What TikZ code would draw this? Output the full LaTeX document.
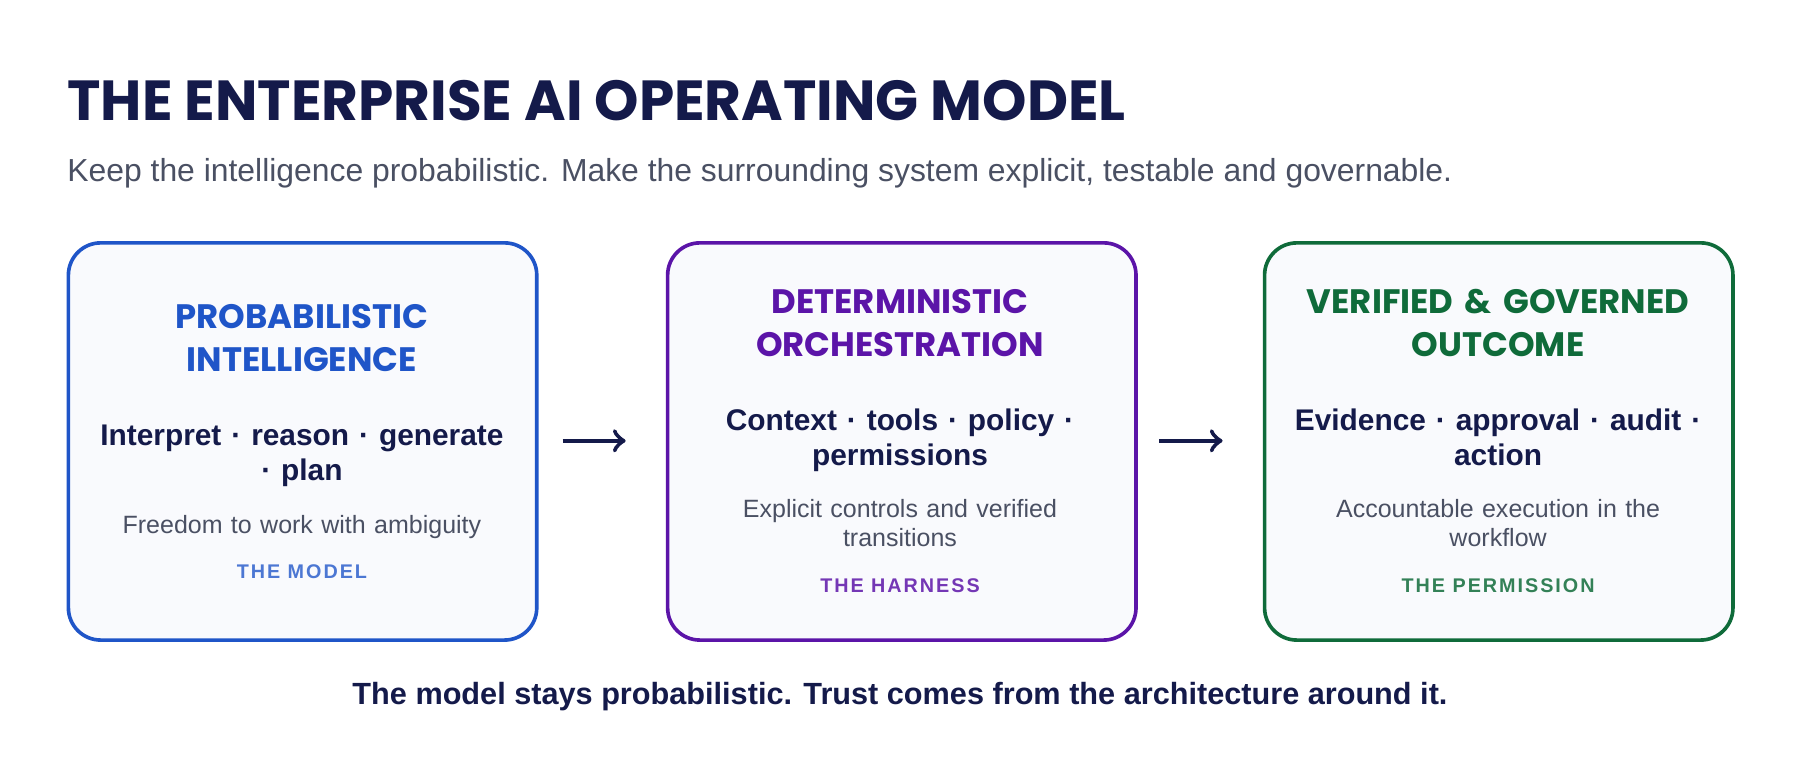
\documentclass[tikz,border=0pt]{standalone}
\usepackage{fontspec}
\setmainfont{Liberation Sans}
\newfontfamily\headfont{Poppins}
\usetikzlibrary{positioning}
\definecolor{navy}{HTML}{141A4A}
\definecolor{greytext}{HTML}{4A5063}
\definecolor{pblue}{HTML}{1F55C8}
\definecolor{ppurple}{HTML}{5B14A8}
\definecolor{pgreen}{HTML}{0F6B3A}
\definecolor{boxfill}{HTML}{F9FAFD}
\tikzset{
  card/.style={draw=#1,line width=0.9pt,rounded corners=8pt,fill=boxfill,minimum width=4.08cm,minimum height=3.46cm,anchor=north west},
  head/.style={text=#1,font=\headfont\bfseries\fontsize{8.4}{12.2}\selectfont,align=center,text width=3.7cm},
  body/.style={text=navy,font=\bfseries\fontsize{7.4}{8.6}\selectfont,align=center,text width=3.7cm},
  desc/.style={text=greytext,font=\fontsize{6.2}{7.1}\selectfont,align=center,text width=3.7cm},
  tag/.style={text=#1,font=\bfseries\fontsize{4.9}{6}\selectfont,align=center},
  flow/.style={->,navy,line width=1.1pt}
}
\begin{document}
\begin{tikzpicture}[x=1cm,y=1cm]
\useasboundingbox (0,0) rectangle (15.68,-6.68);
% heading
\node[anchor=base west,inner sep=0,text=navy,font=\headfont\bfseries\fontsize{14.0}{17}\selectfont] (title) at (0.58,-1.05) {THE ENTERPRISE AI OPERATING MODEL};
\node[anchor=base west,inner sep=0,text=greytext,font=\fontsize{7.9}{9}\selectfont] (sub) at (0.58,-1.58) {Keep the intelligence probabilistic. Make the surrounding system explicit, testable and governable.};
% cards
\node[card=pblue] (c1) at (0.58,-2.10) {};
\node[card=ppurple] (c2) at (5.80,-2.10) {};
\node[card=pgreen] (c3) at (11.00,-2.10) {};
% card 1
\node[head=pblue,anchor=base] (h1) at (2.63,-2.86) {PROBABILISTIC\\[-1.4pt]INTELLIGENCE};
\node[body,anchor=base] (b1) at (2.63,-3.88) {Interpret · reason · generate\\· plan};
\node[desc,anchor=base] (d1) at (2.63,-4.65) {Freedom to work with ambiguity};
\node[tag=pblue!80!white,anchor=base] (t1) at (2.63,-5.04) {\addfontfeature{LetterSpace=10}THE MODEL};
% card 2
\node[head=ppurple,anchor=base] (h2) at (7.84,-2.73) {DETERMINISTIC\\[-1.4pt]ORCHESTRATION};
\node[body,anchor=base] (b2) at (7.84,-3.75) {Context · tools · policy ·\\permissions};
\node[desc,anchor=base] (d2) at (7.84,-4.51) {Explicit controls and verified\\transitions};
\node[tag=ppurple!85!white,anchor=base] (t2) at (7.84,-5.16) {\addfontfeature{LetterSpace=10}THE HARNESS};
% card 3
\node[head=pgreen,anchor=base] (h3) at (13.05,-2.73) {VERIFIED \& GOVERNED\\[-1.4pt]OUTCOME};
\node[body,anchor=base] (b3) at (13.05,-3.75) {Evidence · approval · audit ·\\action};
\node[desc,anchor=base] (d3) at (13.05,-4.51) {Accountable execution in the\\workflow};
\node[tag=pgreen!85!white,anchor=base] (t3) at (13.05,-5.16) {\addfontfeature{LetterSpace=10}THE PERMISSION};
% arrows
\coordinate (a1) at (4.90,-3.84); \coordinate (a2) at (5.45,-3.84);
\coordinate (a3) at (10.10,-3.84); \coordinate (a4) at (10.65,-3.84);
\draw[flow] (a1) -- (a2);
\draw[flow] (a3) -- (a4);
% footer
\node[anchor=base,inner sep=0,text=navy,font=\bfseries\fontsize{7.6}{9}\selectfont] (foot) at (7.84,-6.14) {The model stays probabilistic. Trust comes from the architecture around it.};
\end{tikzpicture}
\end{document}
